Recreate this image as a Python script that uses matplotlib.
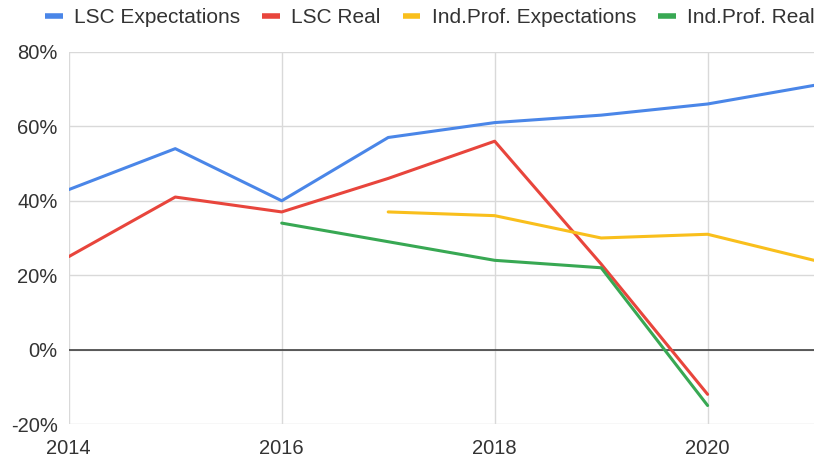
import matplotlib.pyplot as plt
from matplotlib.ticker import FuncFormatter
import numpy as np

plt.rcParams['font.family'] = ['Liberation Sans', 'DejaVu Sans']
plt.rcParams['font.size'] = 14

# Данные
years = [2014, 2015, 2016, 2017, 2018, 2019, 2020, 2021]
lsc_expect = [43, 54, 40, 57, 61, 63, 66, 71]
lsc_real = [25, 41, 37, 46, 56, 23, -12, None]
ind_expect = [None, None, None, 37, 36, 30, 31, 24]
ind_real = [None, None, 34, 29, 24, 22, -15, None]

series_names = ['LSC Expectations', 'LSC Real', 'Ind.Prof. Expectations', 'Ind.Prof. Real']
series_colors = ['#4a86e8', '#e8453c', '#f9bf1c', '#38a853']
x_ticks = [2014, 2016, 2018, 2020]
y_ticks = [-20, 0, 20, 40, 60, 80]

def to_arr(vals):
    return np.array([np.nan if v is None else v for v in vals], dtype=float)

fig = plt.figure(figsize=(8.19, 4.59), dpi=100)
ax = fig.add_axes([0.084, 0.076, 0.91, 0.811])

for vals, name, col in zip([lsc_expect, lsc_real, ind_expect, ind_real], series_names, series_colors):
    ax.plot(years, to_arr(vals), color=col, linewidth=2.2, label=name, solid_capstyle='round')

ax.set_xlim(2014, 2021)
ax.set_ylim(-20, 80)
ax.set_xticks(x_ticks)
ax.set_yticks(y_ticks)
ax.yaxis.set_major_formatter(FuncFormatter(lambda v, p: f'{int(v)}%'))

# Сетка
ax.grid(True, color='#d9d9d9', linewidth=1)
ax.axhline(0, color='#333333', linewidth=1.1, zorder=1)
ax.set_axisbelow(True)
for s in ax.spines.values():
    s.set_visible(False)
ax.tick_params(length=0, labelsize=14.5, colors='#333333')
ax.tick_params(axis='x', pad=11)
ax.tick_params(axis='y', pad=8)

# Легенда
leg = fig.legend(loc='center left', bbox_to_anchor=(0.055, 0.961), ncol=4, frameon=False,
                 fontsize=15, handlelength=0.85, handletextpad=0.55, columnspacing=1.05,
                 borderaxespad=0, borderpad=0)
for h in leg.get_lines():
    h.set_linewidth(4)
    h.set_solid_capstyle('butt')
for t in leg.get_texts():
    t.set_color('#333333')

fig.savefig('out.png', dpi=100)
